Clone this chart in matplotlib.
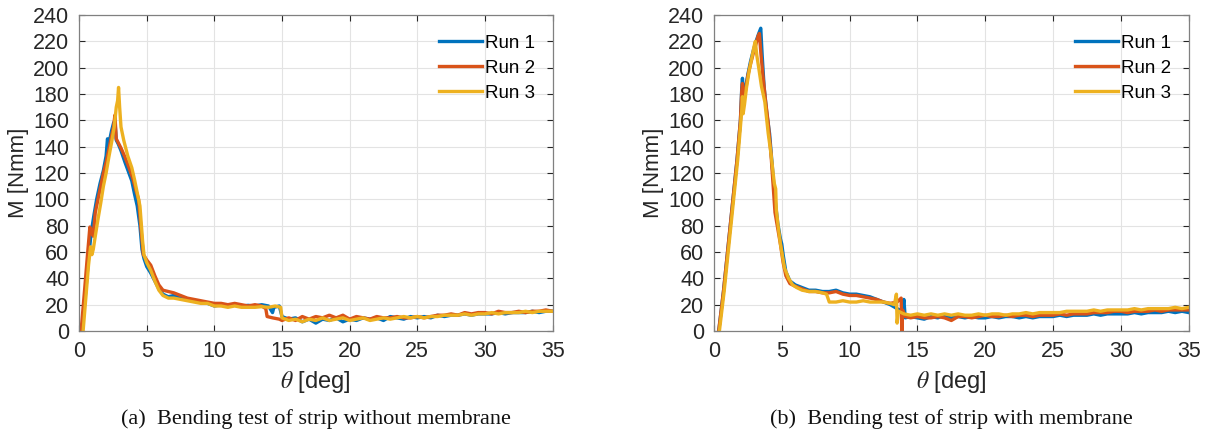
import numpy as np
import matplotlib
matplotlib.use("Agg")
import matplotlib.pyplot as plt

# MATLAB default colours for the three runs
run_colors = ["#0072BD", "#D95319", "#EDB120"]
run_labels = ["Run 1", "Run 2", "Run 3"]

# shared sampling angles for the flat tail (15..35 deg)
theta_tail = [15.0, 15.5, 16.0, 16.5, 17.0, 17.5, 18.0, 18.5, 19.0, 19.5,
              20.0, 20.5, 21.0, 21.5, 22.0, 22.5, 23.0, 23.5, 24.0, 24.5,
              25.0, 25.5, 26.0, 26.5, 27.0, 27.5, 28.0, 28.5, 29.0, 29.5,
              30.0, 30.5, 31.0, 31.5, 32.0, 32.5, 33.0, 33.5, 34.0, 34.5, 35.0]

# ---- (a) strip without membrane ----
theta_a1 = [0.2, 0.45, 0.7, 0.9, 1.1, 1.3, 1.55, 1.8, 2.0, 2.1, 2.2, 2.4, 2.55, 2.65,
            2.75, 2.9, 3.1, 3.4, 3.65, 3.9, 4.1, 4.3, 4.5, 4.65, 4.8, 5.0, 5.3, 5.6,
            5.9, 6.2, 6.6, 7.0, 7.5, 8.0, 8.5, 9.0, 9.5, 10.0, 10.5, 11.0, 11.5, 12.0,
            12.5, 13.0, 13.5, 14.0, 14.3, 14.4, 14.8]
m_a1 = [0, 25, 55, 75, 88, 100, 112, 122, 133, 146, 142, 152, 158, 160,
        145, 142, 137, 128, 121, 114, 104, 95, 80, 62, 55, 49, 44, 38,
        32, 28, 26, 27, 25, 24, 23, 22, 21, 19, 20, 19, 20, 19,
        19.5, 19, 20, 19, 14, 18, 19]
tail_a1 = [11, 9, 10, 7, 9, 6, 9, 8, 10, 7, 9, 8, 10, 9, 10, 8, 11, 10, 9, 11,
           10, 11, 10, 12, 11, 12, 12, 13, 12, 13, 13, 13, 14, 13, 14, 14, 14, 15, 14, 15, 15]

theta_a2 = [0.15, 0.4, 0.6, 0.8, 0.95, 1.05, 1.2, 1.4, 1.6, 1.8, 2.0, 2.2, 2.4, 2.55,
            2.65, 2.75, 2.9, 3.1, 3.4, 3.7, 4.0, 4.2, 4.4, 4.6, 4.75, 5.0, 5.3, 5.6,
            5.9, 6.2, 6.6, 7.0, 7.5, 8.0, 8.5, 9.0, 9.5, 10.0, 10.5, 11.0, 11.5, 12.0,
            12.5, 13.0, 13.5, 13.8, 13.9, 14.3, 14.8]
m_a2 = [0, 30, 55, 79, 75, 72, 90, 100, 110, 120, 128, 138, 148, 155,
        164, 146, 143, 139, 132, 124, 115, 107, 100, 75, 58, 54, 50, 42,
        35, 31, 30, 29, 27, 25, 24, 23, 22, 21, 21, 20, 21, 20,
        19, 20, 19, 17, 11, 10, 9]
tail_a2 = [8, 10, 8, 11, 9, 11, 10, 12, 10, 12, 9, 11, 10, 9, 11, 10, 10, 11, 10, 10,
           11, 10, 11, 12, 12, 13, 12, 14, 13, 14, 14, 13, 15, 14, 14, 15, 14, 15, 15, 16, 15]

theta_a3 = [0.3, 0.5, 0.7, 0.85, 0.95, 1.05, 1.2, 1.4, 1.6, 1.8, 2.0, 2.2, 2.4, 2.6,
            2.75, 2.85, 2.92, 3.0, 3.1, 3.3, 3.6, 3.9, 4.1, 4.3, 4.5, 4.7, 4.8, 5.0,
            5.3, 5.6, 5.9, 6.2, 6.6, 7.0, 7.5, 8.0, 8.5, 9.0, 9.5, 10.0, 10.5, 11.0,
            11.5, 12.0, 12.5, 13.0, 13.5, 14.0, 14.5, 14.9]
m_a3 = [0, 25, 50, 64, 58, 62, 72, 85, 97, 110, 120, 132, 143, 155,
        170, 175, 185, 170, 155, 145, 133, 124, 115, 105, 95, 68, 58, 52,
        46, 38, 31, 27, 25, 25, 24, 23, 22, 21, 21, 19, 19, 18,
        19, 18, 18, 18, 18.5, 18, 19, 18]
tail_a3 = [10, 8, 9, 7, 9, 8, 10, 8, 9, 10, 8, 9, 10, 8, 9, 10, 9, 10, 11, 10,
           11, 10, 11, 11, 12, 12, 12, 13, 12, 13, 13, 14, 13, 14, 14, 14, 15, 14, 15, 15, 15]

# ---- (b) strip with membrane ----
theta_b1 = [0.35, 0.7, 1.0, 1.4, 1.7, 1.95, 2.05, 2.1, 2.2, 2.35, 2.5, 2.7, 2.9, 3.1,
            3.3, 3.45, 3.55, 3.7, 3.9, 4.1, 4.3, 4.5, 4.7, 4.9, 5.0, 5.1, 5.3, 5.6,
            6.0, 6.5, 7.0, 7.5, 8.0, 8.5, 9.0, 9.5, 10.0, 10.5, 11.0, 11.5, 12.0, 12.5,
            13.0, 13.5, 13.9, 14.0, 14.1, 14.5]
m_b1 = [0, 30, 60, 100, 130, 160, 185, 192, 178, 186, 195, 205, 213, 220,
        226, 230, 210, 185, 165, 150, 125, 100, 82, 70, 66, 58, 45, 38,
        35, 33, 31, 31, 30, 30, 31, 29, 28, 28, 27, 26, 24, 22,
        20, 17, 15, 24, 10, 11]
tail_b1 = [10, 9, 11, 10, 12, 10, 11, 10, 11, 10, 10, 11, 10, 11, 11, 10, 11, 10, 11, 11,
           11, 12, 11, 12, 12, 12, 13, 12, 13, 13, 13, 13, 14, 13, 14, 14, 14, 15, 14, 15, 14]

theta_b2 = [0.35, 0.7, 1.0, 1.4, 1.7, 1.95, 2.05, 2.1, 2.2, 2.35, 2.5, 2.7, 2.9, 3.1,
            3.25, 3.35, 3.45, 3.6, 3.8, 4.0, 4.2, 4.4, 4.5, 4.7, 4.9, 5.1, 5.3, 5.6,
            6.0, 6.5, 7.0, 7.5, 8.0, 8.5, 9.0, 9.5, 10.0, 10.5, 11.0, 11.5, 12.0, 12.5,
            13.0, 13.5, 13.8, 13.85, 13.9, 14.1, 14.5]
m_b2 = [0, 30, 60, 100, 130, 160, 183, 188, 176, 184, 194, 203, 211, 218,
        224, 226, 212, 195, 175, 158, 135, 105, 90, 78, 66, 52, 42, 36,
        34, 32, 30, 30, 29, 29, 30, 28, 27, 27, 26, 25, 24, 22,
        21, 22, 25, 0, 16, 11, 10]
tail_b2 = [11, 10, 10, 11, 10, 8, 11, 11, 10, 11, 12, 11, 11, 12, 11, 12, 12, 11, 12, 12,
           12, 13, 12, 13, 13, 13, 14, 14, 14, 15, 15, 14, 15, 15, 15, 16, 15, 16, 16, 16, 16]

theta_b3 = [0.4, 0.75, 1.05, 1.45, 1.75, 1.95, 2.05, 2.1, 2.15, 2.25, 2.4, 2.6, 2.8, 2.95,
            3.05, 3.15, 3.3, 3.5, 3.75, 4.0, 4.2, 4.45, 4.55, 4.6, 4.75, 4.9, 5.0, 5.2,
            5.5, 5.8, 6.1, 6.5, 7.0, 7.5, 8.0, 8.3, 8.5, 9.0, 9.5, 10.0, 10.5, 11.0,
            11.5, 12.0, 12.5, 13.0, 13.3, 13.45, 13.5, 13.6, 14.0, 14.5]
m_b3 = [0, 30, 60, 100, 130, 155, 168, 178, 165, 172, 185, 198, 208, 216,
        220, 210, 200, 186, 174, 150, 135, 112, 108, 92, 78, 66, 60, 48,
        40, 35, 33, 31, 30, 30, 29, 28, 22, 22, 23, 22, 22, 23,
        22, 22, 22, 21, 20, 28, 6, 15, 13, 12]
tail_b3 = [13, 12, 13, 12, 13, 12, 13, 12, 12, 13, 12, 13, 13, 12, 13, 13, 14, 13, 14, 14,
           14, 14, 15, 15, 15, 15, 16, 15, 16, 16, 16, 16, 17, 16, 17, 17, 17, 17, 18, 17, 18]

panels = [
    ([(theta_a1, m_a1, tail_a1), (theta_a2, m_a2, tail_a2), (theta_a3, m_a3, tail_a3)],
     "(a)  Bending test of strip without membrane"),
    ([(theta_b1, m_b1, tail_b1), (theta_b2, m_b2, tail_b2), (theta_b3, m_b3, tail_b3)],
     "(b)  Bending test of strip with membrane"),
]

plt.rcParams["font.family"] = ["Liberation Sans", "DejaVu Sans"]
plt.rcParams["mathtext.fontset"] = "stix"

fig = plt.figure(figsize=(12.05, 4.34), dpi=100)
axes_pos = [[0.0656, 0.2373, 0.393, 0.728], [0.5925, 0.2373, 0.394, 0.728]]

for (runs, caption), pos in zip(panels, axes_pos):
    ax = fig.add_axes(pos)
    for (th, m, tail), c, lab in zip(runs, run_colors, run_labels):
        x = np.concatenate([th, theta_tail])
        y = np.concatenate([m, tail])
        ax.plot(x, y, color=c, lw=2.4, label=lab)

    ax.set_xlim(0, 35)
    ax.set_ylim(0, 240)
    ax.set_xticks(np.arange(0, 36, 5))
    ax.set_yticks(np.arange(0, 241, 20))
    ax.grid(True, color="#e3e3e3", lw=0.8)
    ax.set_axisbelow(True)
    ax.tick_params(direction="in", top=True, right=True, length=4, width=0.8,
                   labelsize=15.5, colors="#262626", pad=7)
    for s in ax.spines.values():
        s.set_color("#808080")
        s.set_linewidth(0.9)

    ax.set_xlabel(r"$\theta$ [deg]", fontsize=17, color="#262626", labelpad=5)
    ax.set_ylabel("M [Nmm]", fontsize=16, color="#262626", labelpad=3)

    ax.legend(loc="upper right", bbox_to_anchor=(0.99, 0.98), frameon=False,
              fontsize=13.5, handlelength=2.3, handletextpad=0.15,
              labelspacing=0.42, borderaxespad=0.3)

    cx = pos[0] + pos[2] / 2
    fig.text(cx, 0.012, caption, ha="center", va="bottom",
             family="Liberation Serif", fontsize=16, color="#111111")

fig.savefig("out.png", dpi=100)
